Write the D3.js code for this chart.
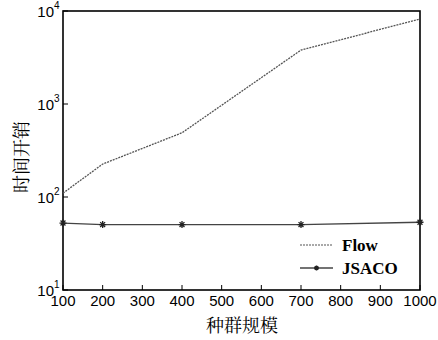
<!DOCTYPE html>
<html><head><meta charset="utf-8">
<script src="https://cdn.jsdelivr.net/npm/d3@7"></script>
<style>body{margin:0;background:#fff}</style>
</head><body>
<svg id="c" width="438" height="340"></svg>
<script>
const popSizes = [100, 200, 400, 700, 1000];
const flowValues = [110, 226, 490, 3800, 8200];
const jsacoValues = [52.5, 50.5, 50.5, 50.5, 53.5];
const xTicks = [100,200,300,400,500,600,700,800,900,1000];
const yTickExps = [1,2,3,4];

const svg = d3.select("#c");
const L=63, R=420, T=11, B=290;
const x = d3.scaleLinear().domain([100,1000]).range([L,R]);
const y = d3.scaleLog().domain([10,10000]).range([B,T]);

svg.append("rect").attr("x",L).attr("y",T).attr("width",R-L).attr("height",B-T)
  .attr("fill","none").attr("stroke","#000").attr("stroke-width",1.6);

const gx = svg.append("g");
xTicks.forEach(v=>{
  gx.append("line").attr("x1",x(v)).attr("x2",x(v)).attr("y1",B).attr("y2",B-5).attr("stroke","#000").attr("stroke-width",1);
  gx.append("text").attr("x",x(v)).attr("y",B+16).attr("text-anchor","middle")
    .attr("font-family","Liberation Sans, Arial, sans-serif").attr("font-size",15).text(v);
});
yTickExps.forEach(e=>{
  const v=Math.pow(10,e);
  svg.append("line").attr("x1",L).attr("x2",L+5).attr("y1",y(v)).attr("y2",y(v)).attr("stroke","#000").attr("stroke-width",1);
  svg.append("text").attr("x",L-9).attr("y",y(v)+6).attr("text-anchor","end")
    .attr("font-family","Liberation Sans, Arial, sans-serif").attr("font-size",15).text("10");
  svg.append("text").attr("x",L-9).attr("y",y(v)-2).attr("font-family","Liberation Sans, Arial, sans-serif")
    .attr("font-size",10).text(e);
});

const line = d3.line().x((d,i)=>x(popSizes[i])).y(d=>y(d));
svg.append("path").datum(flowValues).attr("d",line).attr("fill","none")
  .attr("stroke","#555").attr("stroke-width",1.3).attr("stroke-dasharray","2,1");
svg.append("path").datum(jsacoValues).attr("d",line).attr("fill","none")
  .attr("stroke","#444").attr("stroke-width",1.3);

function star(g,cx,cy,s){
  const d=s*0.7;
  g.append("path").attr("d",`M${cx-s},${cy}L${cx+s},${cy}M${cx},${cy-s}L${cx},${cy+s}M${cx-d},${cy-d}L${cx+d},${cy+d}M${cx-d},${cy+d}L${cx+d},${cy-d}`)
    .attr("stroke","#222").attr("stroke-width",1.3);
}
jsacoValues.forEach((v,i)=>star(svg,x(popSizes[i]),y(v),3.5));

svg.append("line").attr("x1",300).attr("x2",333).attr("y1",245).attr("y2",245)
  .attr("stroke","#555").attr("stroke-width",1.2).attr("stroke-dasharray","2,1");
svg.append("line").attr("x1",300).attr("x2",333).attr("y1",268).attr("y2",268)
  .attr("stroke","#444").attr("stroke-width",1.3);
star(svg,316.5,268,2.5);
svg.append("text").attr("x",342).attr("y",251).attr("font-family","Liberation Serif, Times New Roman, serif")
  .attr("font-weight","bold").attr("font-size",17).text("Flow");
svg.append("text").attr("x",342).attr("y",274).attr("font-family","Liberation Serif, Times New Roman, serif")
  .attr("font-weight","bold").attr("font-size",17).text("JSACO");

svg.append("text").attr("x",242).attr("y",332).attr("text-anchor","middle")
  .attr("font-family","Noto Serif CJK SC, Noto Sans CJK SC, sans-serif").attr("font-size",18).text("种群规模");
svg.append("text").attr("transform",`translate(28,157) rotate(-90)`).attr("text-anchor","middle")
  .attr("font-family","Noto Serif CJK SC, Noto Sans CJK SC, sans-serif").attr("font-size",18).text("时间开销");
</script>
</body></html>
